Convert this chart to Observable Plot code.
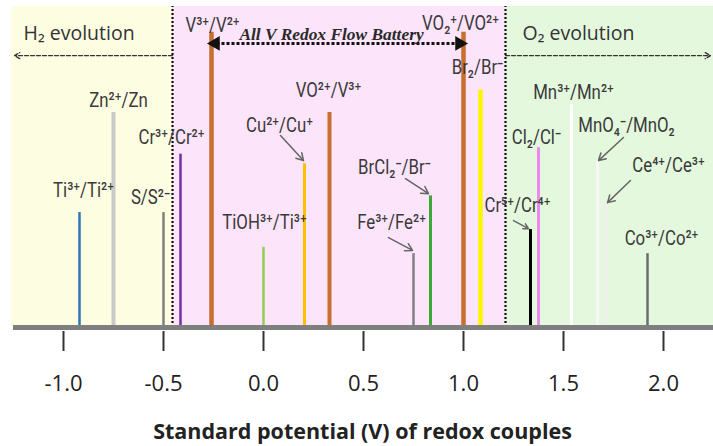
<!DOCTYPE html>
<html><head><meta charset="utf-8">
<script src="https://cdn.jsdelivr.net/npm/d3@7"></script>
<script src="https://cdn.jsdelivr.net/npm/@observablehq/plot@0.6"></script>
<style>body{margin:0;background:#fff;overflow:hidden}</style>
</head><body><div id="chart"></div>
<script>
// Redox couples: standard potential (V) and bar height (relative, 0-100)
const couples    = ["Ti3/Ti2","Zn","S","Cr3/Cr2","V3/V2","TiOH","Cu","VO2/V3","Fe","BrCl2","VO2+/VO2","Br2","Cr5/Cr4","Cl2","Mn3/Mn2","MnO4","Ce","Co"];
const potentials = [-0.92, -0.75, -0.50, -0.415, -0.26, 0.0, 0.205, 0.33, 0.75, 0.835, 1.0, 1.085, 1.335, 1.375, 1.54, 1.67, 1.71, 1.92];
const heights    = [35.8, 67, 35.8, 54, 92, 25, 51, 67, 23, 41, 92, 74, 30.5, 56, 69.5, 52, 39, 23];
const barColors  = ["#2e75b6","#c9c9c9","#7f7f7f","#7030a0","#c96f2e","#92d050","#ffc000","#c96f2e","#808080","#3aaa35","#c96f2e","#f7f700","#000000","#ee88ee","#ffffff","#f7f7f7","#eeeeee","#6d6d6d"];
const barWidths  = [2.5, 4, 2.5, 2.5, 4.5, 2.5, 3, 4, 2.5, 3, 4.5, 4.5, 3, 3, 3, 3, 3, 2.5];

// Couple labels and their positions (V, relative height)
const labelTexts = ["V³⁺/V²⁺","VO₂⁺/VO²⁺","Br₂/Br⁻","VO²⁺/V³⁺","Cu²⁺/Cu⁺","Zn²⁺/Zn","Cr³⁺/Cr²⁺","Ti³⁺/Ti²⁺","S/S²⁻","TiOH³⁺/Ti³⁺","BrCl₂⁻/Br⁻","Fe³⁺/Fe²⁺","Cr⁵⁺/Cr⁴⁺","Cl₂/Cl⁻","Mn³⁺/Mn²⁺","MnO₄⁻/MnO₂","Ce⁴⁺/Ce³⁺","Co³⁺/Co²⁺"];
const labelX = [-0.255, 0.985, 1.07, 0.325, 0.08, -0.725, -0.46, -0.90, -0.565, 0.005, 0.655, 0.64, 1.27, 1.365, 1.55, 1.815, 2.025, 1.99];
const labelY = [94.1, 94.7, 81.0, 73.8, 62.9, 70.7, 59.2, 42.7, 40.5, 32.7, 49.8, 32.7, 38.0, 59.2, 73.2, 62.9, 50.5, 27.7];

// Pointer arrows (from label to bar)
const ptrX1 = [0.085, 0.71, 0.625, 1.25, 1.80, 1.835];
const ptrY1 = [59.8, 46.4, 28.0, 33.3, 59.2, 45.8];
const ptrX2 = [0.20, 0.825, 0.745, 1.325, 1.675, 1.72];
const ptrY2 = [52.0, 41.7, 24.0, 30.8, 52.0, 38.9];

// Background regions
const regionStart  = [-1.26, -0.455, 1.21];
const regionEnd    = [-0.455, 1.21, 2.25];
const regionColors = ["#fdfde2", "#fce4fa", "#e3f8dd"];
const boundaries   = [-0.455, 1.21];

// Gas evolution annotations
const evoLabels = ["H₂ evolution", "O₂ evolution"];
const evoLabelX = [-1.2, 1.295];
const evoLabelY = [91.6, 91.6];
const evoFrom   = [-0.455, 1.21];
const evoTo     = [-1.245, 2.235];
const evoY      = [84.7, 84.7];

// All-vanadium battery span
const batteryLabel = "All V Redox Flow Battery";
const batteryLabelX = 0.34, batteryLabelY = 91.3;
const batteryFrom = -0.26, batteryTo = 1.0, batteryY = 88.5;

// Axis
const tickValues = [-1.0, -0.5, 0.0, 0.5, 1.0, 1.5, 2.0];
const tickLabels = ["-1.0", "-0.5", "0.0", "0.5", "1.0", "1.5", "2.0"];
const axisTitle = "Standard potential (V) of redox couples";

const bars = couples.map((c, i) => ({c, E: potentials[i], h: heights[i], color: barColors[i], w: barWidths[i]}));
const labels = labelTexts.map((t, i) => ({t, x: labelX[i], y: labelY[i]}));
const ptrs = ptrX1.map((d, i) => ({x1: d, y1: ptrY1[i], x2: ptrX2[i], y2: ptrY2[i]}));
const regions = regionStart.map((d, i) => ({x1: d, x2: regionEnd[i], fill: regionColors[i]}));
const evo = evoLabels.map((t, i) => ({t, lx: evoLabelX[i], ly: evoLabelY[i], x1: evoFrom[i], x2: evoTo[i], y: evoY[i]}));

const labelFont = "Roboto, sans-serif";

const plot = Plot.plot({
  width: 713,
  height: 446,
  marginLeft: 11,
  marginRight: 0,
  marginTop: 6,
  marginBottom: 115,
  insetBottom: 4,
  style: {fontFamily: "'Open Sans', sans-serif", color: "#222", background: "#fff"},
  x: {domain: [-1.26, 2.25]},
  y: {domain: [0, 100], axis: null},
  marks: [
    Plot.rectX(regions, {x1: "x1", x2: "x2", y1: 0, y2: 100, fill: d => d.fill}),
    Plot.ruleX(boundaries, {y1: 0, y2: 100, stroke: "#111", strokeWidth: 2.2, strokeDasharray: "2,2"}),
    Plot.ruleX(bars, {x: "E", y1: 0, y2: "h", stroke: d => d.color, strokeWidth: d => d.w}),
    Plot.ruleY([0], {x1: -1.25, x2: 2.25, stroke: "#7f7f7f", strokeWidth: 5}),
    Plot.text(labels, {x: "x", y: "y", text: "t", fontFamily: labelFont, fontSize: 21, fill: "#3a3a3a"}),
    Plot.arrow(ptrs, {x1: "x1", y1: "y1", x2: "x2", y2: "y2", stroke: "#666", strokeWidth: 1.5, headLength: 8}),
    Plot.text(evo, {x: "lx", y: "ly", text: "t", textAnchor: "start", fontSize: 19.5, fill: "#333"}),
    Plot.arrow(evo, {x1: "x1", y1: "y", x2: "x2", y2: "y", stroke: "#333", strokeWidth: 1.3, strokeDasharray: "4,2", headLength: 7}),
    Plot.link([{a: batteryFrom, b: batteryTo}], {x1: "a", x2: "b", y1: batteryY, y2: batteryY, stroke: "#111", strokeWidth: 3, strokeDasharray: "3,2"}),
    Plot.dot([batteryFrom], {x: d => d, y: batteryY, symbol: "triangle", rotate: -90, r: 5.5, fill: "#111", dx: 4}),
    Plot.dot([batteryTo], {x: d => d, y: batteryY, symbol: "triangle", rotate: 90, r: 5.5, fill: "#111", dx: -4}),
    Plot.text([batteryLabel], {x: batteryLabelX, y: batteryLabelY, fontFamily: "'Liberation Serif', serif", fontStyle: "italic", fontWeight: "bold", fontSize: 17.4, fill: "#2a2a2a"}),
    Plot.axisX({ticks: tickValues, tickFormat: (d) => tickLabels[tickValues.indexOf(d)], tickSize: 20, tickPadding: 24, fontSize: 22, stroke: "#333", strokeWidth: 2, label: null}),
    Plot.text([axisTitle], {frameAnchor: "bottom", lineAnchor: "middle", dy: 101, fontWeight: "bold", fontSize: 21.5, fill: "#222"})
  ]
});
// condense the couple labels horizontally (narrow display font look)
plot.querySelectorAll('g[aria-label="text"]').forEach(g => {
  if (!(g.getAttribute("font-family") || "").includes("Roboto")) return;
  g.querySelectorAll("text").forEach(t => {
    const tr = t.getAttribute("transform") || "";
    t.setAttribute("transform", tr + " scale(0.8,1)");
  });
});
document.getElementById("chart").appendChild(plot);
</script>
</body></html>
